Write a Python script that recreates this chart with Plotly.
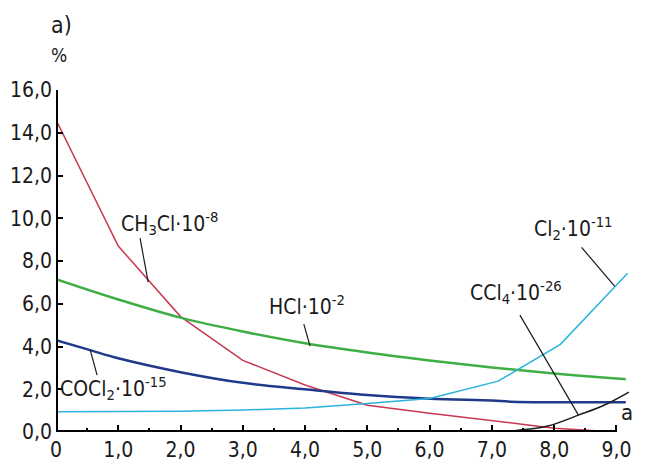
import plotly.graph_objects as go

# ---- data ----
ch3cl_x = [0, 1, 2, 3, 4, 5, 6, 7, 8, 9]
ch3cl_y = [14.6, 8.7, 5.4, 3.35, 2.2, 1.25, 0.88, 0.52, 0.18, 0.0]

hcl_x = [0, 1, 2, 3, 4, 5, 6, 7, 8, 9, 9.15]
hcl_y = [7.15, 6.2, 5.35, 4.7, 4.15, 3.72, 3.35, 3.02, 2.74, 2.5, 2.47]

cocl2_x = [0, 0.55, 1, 2, 3, 4, 5, 6, 7, 7.3, 8, 9.15]
cocl2_y = [4.3, 3.83, 3.45, 2.8, 2.3, 2.0, 1.73, 1.56, 1.47, 1.42, 1.39, 1.39]

cl2_x = [0, 1, 2, 3, 4, 5, 6, 7.1, 8.1, 9.18]
cl2_y = [0.95, 0.95, 0.97, 1.03, 1.12, 1.33, 1.57, 2.38, 4.1, 7.43]

ccl4_x = [7.15, 7.5, 7.9, 8.4, 8.8, 9.2]
ccl4_y = [0.0, 0.1, 0.28, 0.8, 1.25, 1.87]

xtick_vals = [0, 1, 2, 3, 4, 5, 6, 7, 8, 9]
xtick_text = ["0", "1,0", "2,0", "3,0", "4,0", "5,0", "6,0", "7,0", "8,0", "9,0"]
ytick_vals = [0, 2, 4, 6, 8, 10, 12, 14, 16]
ytick_text = ["0,0", "2,0", "4,0", "6,0", "8,0", "10,0", "12,0", "14,0", "16,0"]

FONT = "Liberation Sans Narrow, DejaVu Sans Condensed, Arial, sans-serif"
TXT = "#1a1a1a"

fig = go.Figure()
fig.add_trace(go.Scatter(x=ch3cl_x, y=ch3cl_y, mode="lines",
                         line=dict(color="#c8374f", width=1.5)))
fig.add_trace(go.Scatter(x=hcl_x, y=hcl_y, mode="lines", line_shape="spline",
                         line=dict(color="#3fae46", width=2.5)))
fig.add_trace(go.Scatter(x=cocl2_x, y=cocl2_y, mode="lines", line_shape="spline",
                         line=dict(color="#1f3a8a", width=2.5)))
fig.add_trace(go.Scatter(x=cl2_x, y=cl2_y, mode="lines",
                         line=dict(color="#2ab3dd", width=1.5)))
fig.add_trace(go.Scatter(x=ccl4_x, y=ccl4_y, mode="lines", line_shape="spline",
                         line=dict(color=TXT, width=1.5)))

# thick axis lines
fig.add_shape(type="line", x0=0, x1=0, y0=0, y1=16, xref="x", yref="y",
              line=dict(color="black", width=4))
fig.add_shape(type="line", x0=0, x1=9, y0=0, y1=0, xref="x", yref="y",
              line=dict(color="black", width=4))

# pointer lines
pointers = [
    (1.35, 9.07, 1.48, 7.01),   # CH3Cl
    (3.98, 5.05, 4.08, 4.02),   # HCl
    (0.55, 3.83, 0.66, 2.66),   # COCl2
    (8.44, 8.64, 8.97, 6.82),   # Cl2
    (7.45, 5.47, 8.39, 0.79),   # CCl4
]
for x0, y0, x1, y1 in pointers:
    fig.add_shape(type="line", x0=x0, y0=y0, x1=x1, y1=y1, xref="x", yref="y",
                  line=dict(color=TXT, width=1.2))

labels = [
    (1.83, 9.8, "CH<sub>3</sub>Cl·10<sup>-8</sup>", 21),
    (4.03, 5.93, "HCl·10<sup>-2</sup>", 21),
    (0.93, 2.06, "COCl<sub>2</sub>·10<sup>-15</sup>", 21),
    (8.31, 9.53, "Cl<sub>2</sub>·10<sup>-11</sup>", 21),
    (7.38, 6.54, "CCl<sub>4</sub>·10<sup>-26</sup>", 21),
    (9.17, 0.89, "a", 22),
]
for x, y, t, s in labels:
    fig.add_annotation(x=x, y=y, xref="x", yref="y", text=t, showarrow=False,
                       font=dict(family=FONT, size=s, color=TXT),
                       xanchor="center", yanchor="middle")

# texts above the plot area
fig.add_annotation(x=0.0104, y=1.19, xref="paper", yref="paper", text="a)",
                   showarrow=False, font=dict(family=FONT, size=23, color=TXT),
                   xanchor="center", yanchor="middle")
fig.add_annotation(x=0.005, y=1.102, xref="paper", yref="paper", text="%",
                   showarrow=False, font=dict(family=FONT, size=19, color=TXT),
                   xanchor="center", yanchor="middle")

fig.update_layout(
    width=648, height=461,
    margin=dict(l=48, r=24, t=82, b=37),
    paper_bgcolor="white", plot_bgcolor="white",
    showlegend=False,
    font=dict(family=FONT, size=21, color=TXT),
)
fig.update_xaxes(range=[0, 9.25], showgrid=False, zeroline=False, showline=False,
                 automargin=False,
                 tickmode="array", tickvals=xtick_vals, ticktext=xtick_text,
                 ticks="inside", ticklen=7, tickwidth=2, tickcolor="black",
                 ticklabelstandoff=3,
                 minor=dict(ticks="inside", ticklen=4, tickwidth=2, dtick=0.5,
                            tickcolor="black", showgrid=False),
                 tickfont=dict(family=FONT, size=21, color=TXT))
fig.update_yaxes(range=[0, 16], showgrid=False, zeroline=False, showline=False,
                 automargin=False,
                 tickmode="array", tickvals=ytick_vals, ticktext=ytick_text,
                 ticks="inside", ticklen=7, tickwidth=2, tickcolor="black",
                 ticklabelstandoff=3,
                 tickfont=dict(family=FONT, size=21, color=TXT))

fig.write_html("out.html")
